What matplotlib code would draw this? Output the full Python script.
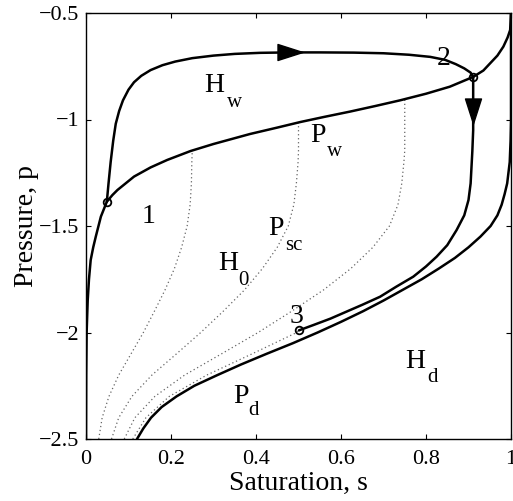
import matplotlib
matplotlib.use("Agg")
import matplotlib.pyplot as plt
from matplotlib.path import Path
from matplotlib.ticker import FixedLocator, FixedFormatter

plt.rcParams['font.family'] = ['Liberation Serif', 'DejaVu Serif']

# ---- data ----
# main wetting curve P_w
pw_s = [0.0, 0.0005, 0.0015, 0.004, 0.007, 0.011, 0.017, 0.023, 0.035, 0.049, 0.062, 0.074,
        0.113, 0.152, 0.191, 0.246, 0.3, 0.386, 0.45, 0.504, 0.56, 0.621, 0.68,
        0.739, 0.8, 0.856, 0.911, 0.935, 0.951, 0.968, 0.982, 0.992, 0.998, 1.0]
pw_p = [-2.5, -2.2, -2.0, -1.85, -1.75, -1.66, -1.6, -1.55, -1.456, -1.386, -1.355, -1.331,
        -1.268, -1.225, -1.19, -1.148, -1.115, -1.068, -1.038, -1.012, -0.988, -0.963, -0.937,
        -0.91, -0.879, -0.846, -0.8, -0.77, -0.736, -0.7, -0.658, -0.615, -0.58, -0.5]

# main drying curve P_d
pd_s = [0.12, 0.135, 0.153, 0.178, 0.213, 0.255, 0.309, 0.365, 0.425, 0.487, 0.545, 0.6, 0.652,
        0.7, 0.745, 0.79, 0.83, 0.868, 0.9, 0.928, 0.952, 0.968, 0.978, 0.985, 0.991, 0.997, 0.999, 1.0, 1.0]
pd_p = [-2.5, -2.45, -2.4, -2.35, -2.3, -2.25, -2.2, -2.15, -2.1, -2.05, -2.0, -1.95, -1.9,
        -1.85, -1.8, -1.75, -1.7, -1.65, -1.6, -1.55, -1.5, -1.45, -1.4, -1.35, -1.3, -1.2, -1.1, -1.0, -0.5]

# wetting scanning curve H_w from point 1 to point 2
hw_s = [0.049, 0.053, 0.058, 0.064, 0.07, 0.078, 0.087, 0.1, 0.113, 0.13, 0.152, 0.18, 0.21,
        0.25, 0.3, 0.35, 0.41, 0.479, 0.55, 0.63, 0.7, 0.76, 0.81, 0.845, 0.87, 0.89, 0.905, 0.911]
hw_p = [-1.386, -1.3, -1.2, -1.1, -1.02, -0.96, -0.91, -0.86, -0.825, -0.795, -0.768, -0.745, -0.728,
        -0.712, -0.7, -0.692, -0.687, -0.685, -0.685, -0.686, -0.689, -0.696, -0.706, -0.72, -0.74, -0.76, -0.78, -0.8]
hw_arrow = 17   # index of arrow on H_w

# drying scanning curve from point 2 to point 3
sc_s = [0.911, 0.911, 0.911, 0.909, 0.905, 0.9, 0.89, 0.872, 0.85, 0.825, 0.8, 0.77, 0.73,
        0.692, 0.65, 0.613, 0.575, 0.535, 0.501]
sc_p = [-0.8, -0.958, -1.05, -1.15, -1.3, -1.378, -1.45, -1.519, -1.59, -1.644, -1.69, -1.738, -1.785,
        -1.832, -1.87, -1.902, -1.935, -1.965, -1.99]
sc_arrow = 1

# dotted scaled curves P_sc
dot_p = [-2.5, -2.4, -2.3, -2.2, -2.1, -2.0, -1.9, -1.8, -1.7, -1.6, -1.5, -1.4, -1.3, -1.2, -1.146, -1.1, -1.013, -0.905]
dotA_s = [0.030, 0.038, 0.054, 0.077, 0.106, 0.135, 0.161, 0.186, 0.208, 0.225, 0.238, 0.245, 0.248, 0.249, 0.250]
dotB_s = [0.060, 0.077, 0.108, 0.155, 0.213, 0.270, 0.323, 0.373, 0.415, 0.450, 0.476, 0.489, 0.495, 0.499, 0.500, 0.500, 0.500]
dotC_s = [0.090, 0.115, 0.162, 0.232, 0.319, 0.405, 0.484, 0.559, 0.623, 0.675, 0.714, 0.734, 0.743, 0.748, 0.750, 0.750, 0.750, 0.750]
dotD_s = [0.110, 0.141, 0.196, 0.284, 0.391, 0.496]
dotD_end = (0.501, -1.99)

# marked points 1, 2, 3
pts_s = [0.049, 0.911, 0.501]
pts_p = [-1.386, -0.8, -1.99]

xticks = [0, 0.2, 0.4, 0.6, 0.8, 1]
xticklabels = ['0', '0.2', '0.4', '0.6', '0.8', '1']
yticks = [-2.5, -2, -1.5, -1, -0.5]
yticklabels = ['\u22122.5', '\u22122', '\u22121.5', '\u22121', '\u22120.5']

# ---- figure ----
fig = plt.figure(figsize=(5.13, 5.01), dpi=100)
ax = fig.add_axes([86/513, 1-439/501, 425/513, 426/501])

dkw = dict(color='0.4', linestyle=(0, (1, 2.2)), linewidth=0.9)
ax.plot(dotA_s, dot_p[:len(dotA_s)], **dkw)
ax.plot(dotB_s, dot_p[:len(dotB_s)], **dkw)
ax.plot(dotC_s, dot_p[:len(dotC_s)], **dkw)
ax.plot(dotD_s + [dotD_end[0]], dot_p[:len(dotD_s)] + [dotD_end[1]], **dkw)

lkw = dict(color='black', linewidth=1.8, solid_capstyle='round', solid_joinstyle='round')
ax.plot(pw_s, pw_p, **lkw)
ax.plot(pd_s, pd_p, **lkw)
ax.plot(hw_s, hw_p, **lkw)
ax.plot(sc_s, sc_p, **lkw)

ax.plot(pts_s, pts_p, linestyle='none', marker='o', markersize=5.5,
        markerfacecolor='none', markeredgecolor='black', markeredgewidth=1.3)

# arrow heads
right_tri = Path([(-1, -0.64), (1, 0), (-1, 0.64), (-1, -0.64)],
                 [Path.MOVETO, Path.LINETO, Path.LINETO, Path.CLOSEPOLY])
down_tri = Path([(-0.64, 1), (0, -1), (0.64, 1), (-0.64, 1)],
                [Path.MOVETO, Path.LINETO, Path.LINETO, Path.CLOSEPOLY])
ax.plot([hw_s[hw_arrow]], [hw_p[hw_arrow]], marker=right_tri, markersize=18, color='black', linestyle='none')
ax.plot([sc_s[sc_arrow]], [sc_p[sc_arrow]], marker=down_tri, markersize=18, color='black', linestyle='none')

# labels
fs_main, fs_sub = 20, 15
def lab(x, y, t, size):
    ax.text(x, y, t, fontsize=size, ha='left', va='baseline')

lab(0.278, -0.871, 'H', fs_main); lab(0.332, -0.941, 'w', fs_sub)
lab(0.527, -1.106, 'P', fs_main); lab(0.567, -1.171, 'w', fs_sub)
lab(0.428, -1.542, 'P', fs_main); lab(0.468, -1.613, 'sc', fs_sub)
lab(0.311, -1.707, 'H', fs_main); lab(0.358, -1.777, '0', fs_sub)
lab(0.346, -2.331, 'P', fs_main); lab(0.381, -2.387, 'd', fs_sub)
lab(0.751, -2.167, 'H', fs_main); lab(0.802, -2.232, 'd', fs_sub)
lab(0.132, -1.486, '1', fs_main)
lab(0.826, -0.744, '2', fs_main)
lab(0.48, -1.955, '3', fs_main)

ax.set_xlim(0, 1)
ax.set_ylim(-2.5, -0.5)
ax.xaxis.set_major_locator(FixedLocator(xticks))
ax.xaxis.set_major_formatter(FixedFormatter(xticklabels))
ax.yaxis.set_major_locator(FixedLocator(yticks))
ax.yaxis.set_major_formatter(FixedFormatter(yticklabels))
ax.tick_params(direction='in', length=3.5, width=0.8, labelsize=16,
               top=True, right=True, pad=5)
ax.tick_params(axis='x', pad=8)
for sp in ax.spines.values():
    sp.set_linewidth(1.0)

ax.set_xlabel('Saturation, s', fontsize=20, labelpad=1)
ax.set_ylabel('Pressure, p', fontsize=20, labelpad=0)

fig.savefig('out.png', dpi=100)
